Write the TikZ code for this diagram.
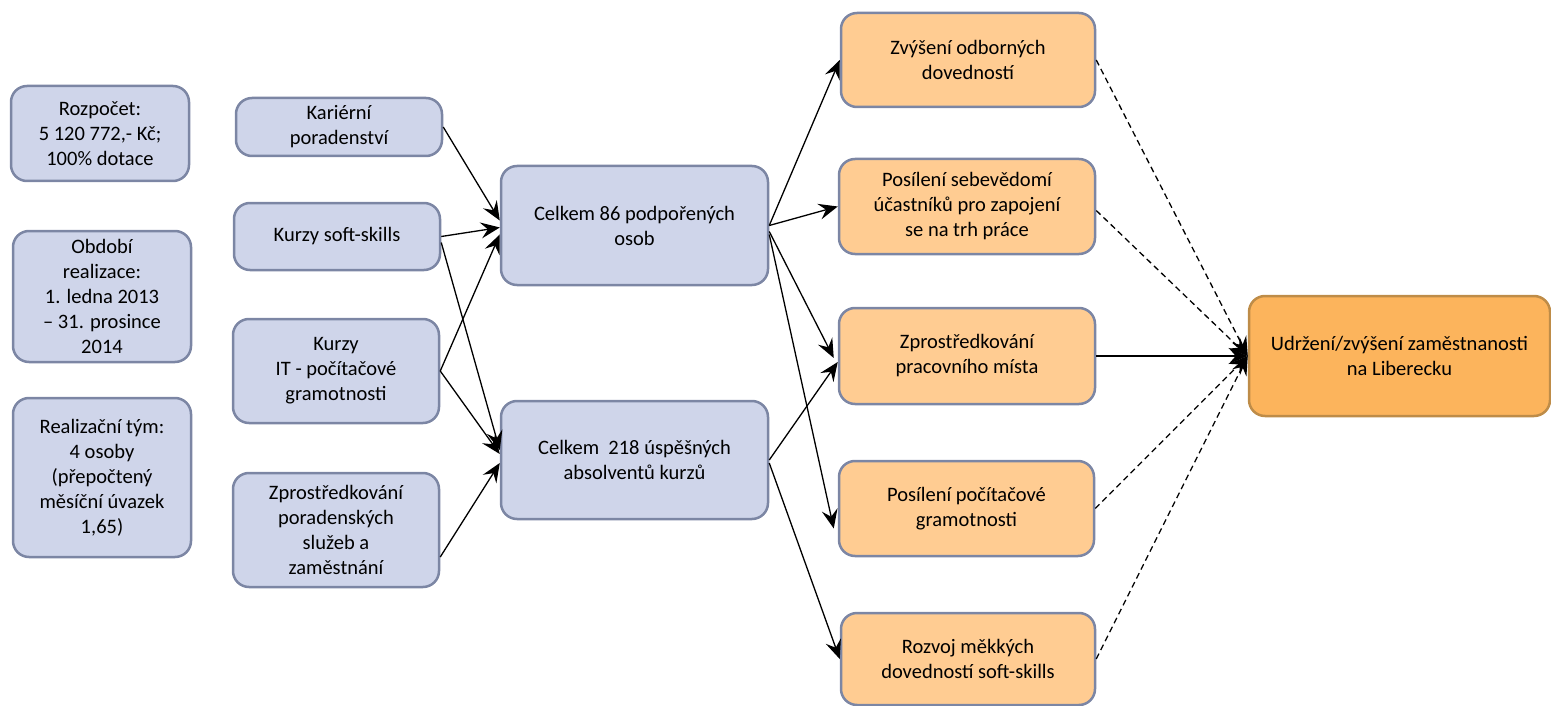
\documentclass[tikz,border=0pt]{standalone}
\usepackage{fontspec}
\setmainfont{Carlito}
\usetikzlibrary{arrows.meta}
\definecolor{bfill}{RGB}{207,213,234}
\definecolor{bdraw}{RGB}{124,134,164}
\definecolor{ofill}{RGB}{255,204,146}
\definecolor{dfill}{RGB}{252,180,92}
\definecolor{ddraw}{RGB}{190,140,72}
\begin{document}
\begin{tikzpicture}[x=1pt,y=-1pt,
  box/.style={draw=bdraw, line width=2.5pt, rounded corners=16pt, fill=bfill, align=center,
    font=\fontsize{20.5}{25}\selectfont, inner sep=0pt},
  obox/.style={box, fill=ofill},
  dbox/.style={box, fill=dfill, draw=ddraw},
  conn/.style={line width=1.3pt, -{Stealth[length=19pt,width=16pt,inset=7pt]}},
  dconn/.style={conn, dash pattern=on 6pt off 4pt}]
\useasboundingbox (0,0) rectangle (1551,706);
% left column
\node[box, minimum width=178pt, minimum height=95pt] (bud) at (100,133.5) {Rozpočet:\\5 120 772,- Kč;\\100\% dotace};
\node[box, minimum width=178pt, minimum height=131pt] (obd) at (102,296.5) {Období\\realizace:\\1. ledna 2013\\– 31. prosince\\2014};
\node[box, minimum width=178pt, minimum height=159pt] (tym) at (102,477.5) {Realizační tým:\\4 osoby\\(přepočtený\\měsíční úvazek\\1,65)};
% activities
\node[box, minimum width=206pt, minimum height=58pt] (kar) at (339,127) {Kariérní\\poradenství};
\node[box, minimum width=206pt, minimum height=67pt] (soft) at (337,236.5) {Kurzy soft-skills};
\node[box, minimum width=206pt, minimum height=104pt] (it) at (336,371) {Kurzy\\IT - počítačové\\gramotnosti};
\node[box, minimum width=206pt, minimum height=114pt] (zps) at (336,530) {Zprostředkování\\poradenských\\služeb a\\zaměstnání};
% outputs
\node[box, minimum width=267pt, minimum height=119pt] (c86) at (634.5,225.5) {Celkem 86 podpořených\\osob};
\node[box, minimum width=267pt, minimum height=118pt] (c218) at (634.5,460) {Celkem\ \ 218 úspěšných\\absolventů kurzů};
% results
\node[obox, minimum width=254pt, minimum height=94pt] (zvy) at (968,60) {Zvýšení odborných\\dovedností};
\node[obox, minimum width=256pt, minimum height=95pt] (pos) at (967,206.5) {Posílení sebevědomí\\účastníků pro zapojení\\se na trh práce};
\node[obox, minimum width=256pt, minimum height=96pt] (zpr) at (967,356) {Zprostředkování\\pracovního místa};
\node[obox, minimum width=255pt, minimum height=95pt] (poc) at (966.5,508.5) {Posílení počítačové\\gramotnosti};
\node[obox, minimum width=254pt, minimum height=92pt] (roz) at (968,659) {Rozvoj měkkých\\dovedností soft-skills};
% impact
\node[dbox, minimum width=301pt, minimum height=120pt] (udr) at (1399.5,356) {Udržení/zvýšení zaměstnanosti\\na Liberecku};
% connectors: activities -> outputs
\draw[conn] (kar.east) -- ([yshift=5pt]c86.west);
\draw[conn] (soft.east) -- ([yshift=-2pt]c86.west);
\draw[conn] (it.east) -- ([yshift=-9pt]c86.west);
\draw[conn] ([yshift=-6pt]soft.east) -- ([yshift=10pt]c218.west);
\draw[conn] (it.east) -- ([yshift=6pt]c218.west);
\draw[conn] ([yshift=-27pt]zps.east) -- ([yshift=-3pt]c218.west);
% outputs -> results
\draw[conn] (c86.east) -- (zvy.west);
\draw[conn] (c86.east) -- (pos.west);
\draw[conn] ([yshift=-6pt]c86.east) -- ([yshift=-2pt,xshift=-4pt]zpr.west);
\draw[conn] ([yshift=-9pt]c86.east) -- ([yshift=-20pt,xshift=-4pt]poc.west);
\draw[conn] (c218.east) -- ([yshift=-6pt]zpr.west);
\draw[conn] ([yshift=-3pt]c218.east) -- (roz.west);
% results -> impact
\draw[dconn] (zvy.east) -- (udr.west);
\draw[dconn] ([yshift=-4pt]pos.east) -- (udr.west);
\draw[conn] (zpr.east) -- (udr.west);
\draw[dconn] (poc.east) -- (udr.west);
\draw[dconn] (roz.east) -- (udr.west);
\end{tikzpicture}
\end{document}
